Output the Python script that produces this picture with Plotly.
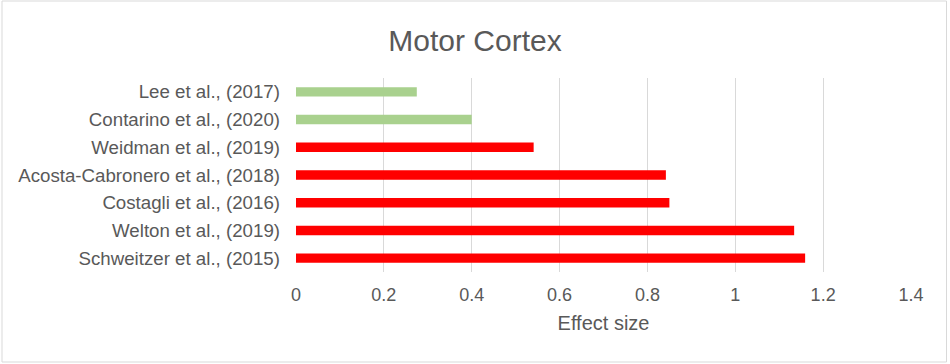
import plotly.graph_objects as go

studies = ["Lee et al., (2017)", "Contarino et al., (2020)", "Weidman et al., (2019)",
           "Acosta-Cabronero et al., (2018)", "Costagli et al., (2016)",
           "Welton et al., (2019)", "Schweitzer et al., (2015)"]
effect_sizes = [0.275, 0.40, 0.541, 0.842, 0.850, 1.134, 1.159]
bar_colors = ["#A9D18E", "#A9D18E", "#FF0000", "#FF0000", "#FF0000", "#FF0000", "#FF0000"]
x_ticks = [0, 0.2, 0.4, 0.6, 0.8, 1.0, 1.2, 1.4]
x_tick_labels = ["0", "0.2", "0.4", "0.6", "0.8", "1", "1.2", "1.4"]

fig = go.Figure(go.Bar(
    x=effect_sizes, y=studies, orientation="h",
    marker=dict(color=bar_colors, line=dict(width=0)),
    width=0.34,
))

fig.update_layout(
    width=950, height=364,
    margin=dict(l=296, r=39, t=78, b=92, autoexpand=False),
    paper_bgcolor="white", plot_bgcolor="white",
    font=dict(family="Liberation Sans, Arial, sans-serif", color="#595959", size=18.7),
    title=dict(text="Motor Cortex", x=0.5, xref="container", y=0.89, yref="container",
               xanchor="center", yanchor="middle",
               font=dict(size=30, color="#595959")),
    showlegend=False,
    xaxis=dict(range=[0, 1.4], tickvals=x_ticks, ticktext=x_tick_labels,
               showgrid=True, gridcolor="#D9D9D9", gridwidth=1, zeroline=False,
               showline=False, ticks="", ticklabelstandoff=10,
               tickfont=dict(size=18),
               title=dict(text="Effect size", font=dict(size=20, color="#595959"), standoff=11)),
    yaxis=dict(categoryorder="array", categoryarray=studies, autorange="reversed",
               showgrid=False, zeroline=False, showline=False, ticks="",
               ticklabelstandoff=15),
    shapes=[dict(type="rect", xref="paper", yref="paper",
                 x0=-294/615, x1=(946.5-296)/615, y0=-(362-272)/194, y1=(272-1)/194,
                 line=dict(color="#D9D9D9", width=1), fillcolor="rgba(0,0,0,0)", layer="below")],
)

fig.write_html("out.html", post_script="document.body.style.margin='0';",
               config={"displayModeBar": False})
